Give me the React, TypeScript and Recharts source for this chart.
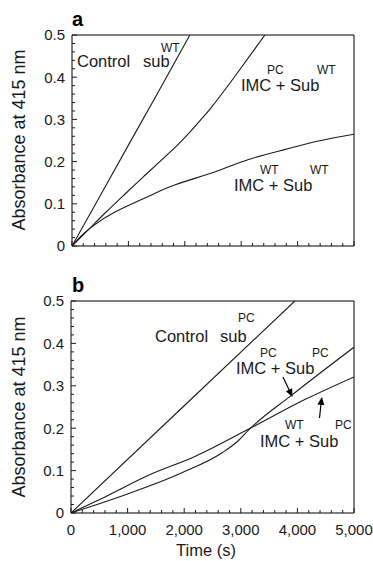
import { LineChart, Line, XAxis, YAxis, ReferenceArea, Customized } from "recharts";

// time (s) / absorbance pairs
const A_CONTROL_WT = [[0, 0], [500, 0.119], [1000, 0.239], [1500, 0.358], [2090, 0.5]];
const A_IMC_PC_SUB_WT = [
  [0, 0], [300, 0.04], [600, 0.08], [900, 0.118], [1265, 0.164], [1900, 0.243],
  [2270, 0.297], [2450, 0.325], [2860, 0.397], [3420, 0.5],
];
const A_IMC_WT_SUB_WT = [
  [0, 0], [150, 0.022], [355, 0.046], [770, 0.081], [1360, 0.118], [1830, 0.145],
  [2540, 0.176], [3130, 0.205], [3780, 0.229], [4370, 0.249], [5000, 0.265],
];

const B_CONTROL_PC = [[0, 0], [2000, 0.253], [3955, 0.5]];
const B_IMC_PC_SUB_PC = [
  [0, 0], [500, 0.022], [1000, 0.045], [1370, 0.063], [1960, 0.095], [2670, 0.142],
  [2960, 0.171], [3140, 0.196], [3900, 0.278], [5000, 0.391],
];
const B_IMC_WT_SUB_PC = [
  [0, 0], [600, 0.038], [1370, 0.089], [2200, 0.134], [3140, 0.198], [4140, 0.268],
  [5000, 0.321],
];

const X_TICKS = [
  0, 200, 400, 600, 800, 1000, 1200, 1400, 1600, 1800, 2000, 2200, 2400, 2600, 2800,
  3000, 3200, 3400, 3600, 3800, 4000, 4200, 4400, 4600, 4800, 5000,
];
const X_LABELS = ["0", "1,000", "2,000", "3,000", "4,000", "5,000"];
const Y_TICKS = [
  0, 0.02, 0.04, 0.06, 0.08, 0.1, 0.12, 0.14, 0.16, 0.18, 0.2, 0.22, 0.24, 0.26, 0.28,
  0.3, 0.32, 0.34, 0.36, 0.38, 0.4, 0.42, 0.44, 0.46, 0.48, 0.5,
];
const Y_LABELS = ["0", "0.1", "0.2", "0.3", "0.4", "0.5"];

const FONT = "'Liberation Sans', Arial, Helvetica, sans-serif";
const INK = "#1a1a1a";
const B_TOP = 268;

const toPoints = (rows: number[][]) => rows.map(([t, v]) => ({ t, v }));

function YTick(props: any) {
  const { x, y, payload } = props;
  const idx = Math.round(payload.value * 10);
  const major = Math.abs(payload.value * 10 - idx) < 1e-6;
  return (
    <g>
      <line x1={x} x2={x + (major ? 5 : 3)} y1={y} y2={y} stroke={INK} strokeWidth={1} />
      {major && (
        <text x={x - 7} y={y} dy="0.36em" textAnchor="end" fontSize={15} fill={INK}>
          {Y_LABELS[idx]}
        </text>
      )}
    </g>
  );
}

function makeXTick(showLabels: boolean) {
  return function XTick(props: any) {
    const { x, y, payload } = props;
    const major = payload.value % 1000 === 0;
    return (
      <g>
        <line x1={x} x2={x} y1={y} y2={y - (major ? 5 : 3)} stroke={INK} strokeWidth={1} />
        {showLabels && major && (
          <text x={x} y={y + 22} textAnchor="middle" fontSize={15} fill={INK}>
            {X_LABELS[payload.value / 1000]}
          </text>
        )}
      </g>
    );
  };
}

function Sup({ x, y, children }: any) {
  return (
    <text x={x} y={y} fontSize={12} fill={INK}>
      {children}
    </text>
  );
}

function Lbl({ x, y, children }: any) {
  return (
    <text x={x} y={y} fontSize={16.5} fill={INK}>
      {children}
    </text>
  );
}

function YTitle({ cy }: { cy: number }) {
  return (
    <text
      x={25}
      y={cy}
      transform={`rotate(-90, 25, ${cy})`}
      textAnchor="middle"
      fontSize={18}
      fill={INK}
    >
      Absorbance at 415 nm
    </text>
  );
}

// annotation coordinates are page pixels; panel b is shifted back by B_TOP
function AnnotationsA() {
  return (
    <g>
      <text x={72} y={26} fontSize={20} fontWeight="bold" fill="#000">a</text>
      <YTitle cy={140} />
      <Lbl x={77} y={67}>Control</Lbl>
      <Lbl x={143} y={67}>sub</Lbl>
      <Sup x={161} y={52}>WT</Sup>
      <Lbl x={241} y={91}>IMC + Sub</Lbl>
      <Sup x={267} y={74}>PC</Sup>
      <Sup x={317} y={74}>WT</Sup>
      <Lbl x={234} y={191}>IMC + Sub</Lbl>
      <Sup x={260} y={174}>WT</Sup>
      <Sup x={310} y={174}>WT</Sup>
    </g>
  );
}

function AnnotationsB() {
  return (
    <g transform={`translate(0, ${-B_TOP})`}>
      <defs>
        <marker id="arrowhead" markerWidth="8" markerHeight="8" refX="7" refY="4" orient="auto" markerUnits="userSpaceOnUse">
          <path d="M0,0.5 L8,4 L0,7.5 Z" fill="#000" />
        </marker>
      </defs>
      <text x={72} y={292} fontSize={20} fontWeight="bold" fill="#000">b</text>
      <YTitle cy={407} />
      <text x={206} y={556} textAnchor="middle" fontSize={16.5} fill={INK}>Time (s)</text>
      <Lbl x={155} y={342}>Control</Lbl>
      <Lbl x={220} y={342}>sub</Lbl>
      <Sup x={238} y={322}>PC</Sup>
      <Lbl x={236} y={374}>IMC + Sub</Lbl>
      <Sup x={260} y={357}>PC</Sup>
      <Sup x={312} y={357}>PC</Sup>
      <Lbl x={260} y={447}>IMC + Sub</Lbl>
      <Sup x={285} y={429}>WT</Sup>
      <Sup x={335} y={429}>PC</Sup>
      <line x1={283} y1={377} x2={292} y2={396} stroke="#000" strokeWidth={1.2} markerEnd="url(#arrowhead)" />
      <line x1={319.5} y1={418} x2={321.7} y2={398} stroke="#000" strokeWidth={1.2} markerEnd="url(#arrowhead)" />
    </g>
  );
}

function Panel({ series, curve, showLabels, height, margin, xHeight, annotations }: any) {
  return (
    <LineChart width={373} height={height} margin={margin} style={{ fontFamily: FONT }}>
      <XAxis
        dataKey="t"
        type="number"
        domain={[0, 5000]}
        ticks={X_TICKS}
        interval={0}
        tickSize={0}
        tickMargin={0}
        axisLine={false}
        tickLine={false}
        height={xHeight}
        tick={makeXTick(showLabels)}
        allowDataOverflow
      />
      <YAxis
        type="number"
        domain={[0, 0.5]}
        ticks={Y_TICKS}
        interval={0}
        tickSize={0}
        tickMargin={0}
        axisLine={false}
        tickLine={false}
        width={60}
        tick={YTick}
        allowDataOverflow
      />
      {series.map((s: number[][], i: number) => (
        <Line
          key={i}
          data={toPoints(s)}
          dataKey="v"
          type={s.length > 3 ? curve : "linear"}
          stroke={INK}
          strokeWidth={1.1}
          dot={false}
          activeDot={false}
          isAnimationActive={false}
        />
      ))}
      <ReferenceArea x1={0} x2={5000} y1={0} y2={0.5} fill="none" stroke="#000" strokeWidth={1} ifOverflow="visible" />
      <Customized component={annotations} />
    </LineChart>
  );
}

export default function App() {
  return (
    <div style={{ position: "absolute", left: 0, top: 0, width: 373, height: 561, background: "#fff", fontFamily: FONT }}>
      <div style={{ position: "absolute", left: 0, top: 0 }}>
        <Panel
          series={[A_CONTROL_WT, A_IMC_PC_SUB_WT, A_IMC_WT_SUB_WT]}
          curve="natural"
          showLabels={false}
          height={B_TOP}
          margin={{ top: 35, right: 19, bottom: B_TOP - 246 - 16, left: 12 }}
          xHeight={16}
          annotations={AnnotationsA}
        />
      </div>
      <div style={{ position: "absolute", left: 0, top: B_TOP }}>
        <Panel
          series={[B_CONTROL_PC, B_IMC_PC_SUB_PC, B_IMC_WT_SUB_PC]}
          curve="monotone"
          showLabels={true}
          height={561 - B_TOP}
          margin={{ top: 301 - B_TOP, right: 19, bottom: 561 - 513 - 40, left: 11 }}
          xHeight={40}
          annotations={AnnotationsB}
        />
      </div>
    </div>
  );
}
